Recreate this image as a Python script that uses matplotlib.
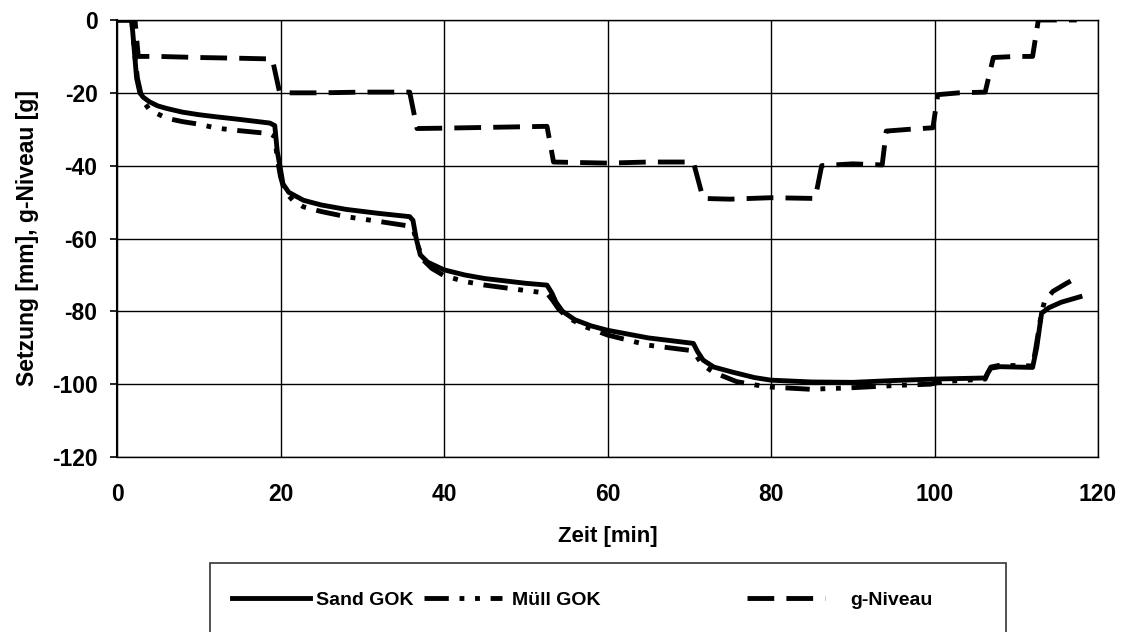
import matplotlib
matplotlib.use("Agg")
import matplotlib.pyplot as plt
from matplotlib.patches import Rectangle

plt.rcParams['font.family'] = ['Liberation Sans', 'DejaVu Sans']
plt.rcParams['font.weight'] = 'bold'
plt.rcParams['axes.unicode_minus'] = False

# ---- data ----
sand_t = [0, 1.8, 2.1, 2.4, 2.8, 3.2, 4, 5, 6.1, 8, 10, 12.2, 15, 18.7, 19.3, 19.6, 20, 20.3, 21,
          22.8, 25, 28, 32, 35.8, 36.2, 36.6, 37.1, 38, 40, 42.5, 45, 50, 52.6, 53.2, 53.7, 54.5,
          56, 58, 60, 65, 70.5, 71, 71.7, 73, 75.3, 78, 80, 85, 90, 95, 100, 106.2, 106.5, 106.9,
          108, 112, 112.5, 113.1, 114, 115.5, 117.8]
sand_s = [0, 0, -8, -16, -20, -21.2, -22.5, -23.6, -24.3, -25.3, -26, -26.6, -27.3, -28.3, -29, -36,
          -41, -45, -47.3, -49.5, -50.8, -52, -53.1, -54, -55, -60, -64.5, -66.5, -68.6, -70, -71,
          -72.3, -72.8, -75, -77.5, -80, -82.3, -84, -85.2, -87.3, -88.8, -91, -93.4, -95.3, -96.7,
          -98.2, -98.9, -99.4, -99.5, -99, -98.6, -98.3, -97, -95.6, -95.2, -95.4, -90, -80.5, -79,
          -77.5, -76]

muell_t = [0, 1.8, 2.1, 2.5, 3, 3.5, 4, 5, 6.1, 8, 10, 12.2, 15, 18.7, 19.3, 19.6, 20, 20.5, 21.5,
           22.8, 25, 28, 32, 35.8, 36.3, 36.8, 37.5, 38.5, 40, 42.5, 45, 50, 52.6, 53.3, 54, 55, 57,
           60, 65, 70, 70.8, 71.6, 73, 75.8, 78, 80, 84.8, 89.7, 95.8, 99.5, 101, 106.2, 106.5,
           106.9, 108, 112, 112.4, 113.1, 113.5, 114.5, 116, 117.2]
muell_s = [0, 0, -8, -16, -21, -23.2, -24.7, -25.8, -27, -27.9, -28.6, -29.7, -30.4, -31.2, -32, -38,
           -43, -47, -49.5, -51.3, -52.6, -54, -55.3, -56.6, -58, -62, -66, -68.2, -70.2, -71.8,
           -72.8, -74.3, -75, -77, -79.3, -81.5, -84, -86.5, -89.3, -90.7, -92, -94.6, -96.8, -99.3,
           -100.2, -100.8, -101.4, -101, -100.3, -100, -99.3, -98.6, -97, -95.3, -94.8, -95, -90,
           -80.2, -77, -74.5, -72.5, -71]

g_t = [0, 2.2, 2.6, 5, 10, 15, 19, 19.9, 25, 30, 35.8, 36.7, 40, 45, 52.6, 53.4, 60, 65, 70.5, 71.7,
       75, 80, 85.4, 86.2, 90, 93.6, 94.1, 97, 99.8, 100.4, 103, 106.2, 107.2, 110, 112, 112.7, 117.4]
g_n = [0, 0, -10, -10, -10.3, -10.5, -10.7, -20, -20, -19.8, -19.8, -29.8, -29.7, -29.5, -29.2, -39,
       -39.3, -39, -39, -49, -49.2, -48.8, -49, -40, -39.5, -39.8, -30.5, -30, -29.6, -20.5, -20,
       -19.8, -10.3, -10, -10, 0, 0]

x_ticks = [0, 20, 40, 60, 80, 100, 120]
y_ticks = [-120, -100, -80, -60, -40, -20, 0]

labels = ["Sand GOK", "Müll GOK", "g-Niveau"]

# ---- figure ----
W, H = 1127, 632
fig = plt.figure(figsize=(W / 100, H / 100), dpi=100)
ax = fig.add_axes([117 / W, 1 - 457 / H, (1098 - 117) / W, (457 - 20) / H])

lw = 3.5
l1, = ax.plot(sand_t, sand_s, color='black', lw=lw, solid_joinstyle='round', label=labels[0])
l2, = ax.plot(muell_t, muell_s, color='black', lw=lw, dashes=(5, 2.2, 1.0, 2.2, 1.0, 2.2),
              label=labels[1])
l3, = ax.plot(g_t, g_n, color='black', lw=lw, dashes=(5.5, 2.5), label=labels[2])

ax.set_xlim(0, 120)
ax.set_ylim(-120, 0)
ax.set_xticks(x_ticks)
ax.set_yticks(y_ticks)
ax.grid(True, color='black', lw=1.0)
for s in ax.spines.values():
    s.set_color('black')
    s.set_linewidth(1.0)
ax.spines['left'].set_linewidth(1.5)

ax.tick_params(axis='x', length=0, pad=19, labelsize=16.5)
ax.tick_params(axis='y', length=5, width=1.2, pad=9, direction='out', labelsize=16.5)

ax.set_xlabel("Zeit [min]", fontsize=16, fontweight='bold', labelpad=14)
ax.set_ylabel("Setzung [mm], g-Niveau [g]", fontsize=16.5, fontweight='bold', labelpad=9)

# ---- legend ----
frame = Rectangle((210 / W, 1 - 640 / H), (1006 - 210) / W, (640 - 563) / H,
                  transform=fig.transFigure, fill=False, edgecolor='#333333', lw=1.2)
fig.patches.append(frame)
leg_kw = dict(loc='center left', ncol=1, frameon=False, fontsize=14,
              handlelength=4.0, borderpad=0.0, borderaxespad=0.0)
fig.legend(handles=[l1], labels=[labels[0]], bbox_to_anchor=(232 / W, 1 - 600 / H),
           handletextpad=0.3, **leg_kw)
fig.legend(handles=[l2], labels=[labels[1]], bbox_to_anchor=(424 / W, 1 - 600 / H),
           handletextpad=0.5, **leg_kw)
fig.legend(handles=[l3], labels=[labels[2]], bbox_to_anchor=(747 / W, 1 - 600 / H),
           handletextpad=1.3, **leg_kw)

fig.savefig("out.png", dpi=100)
